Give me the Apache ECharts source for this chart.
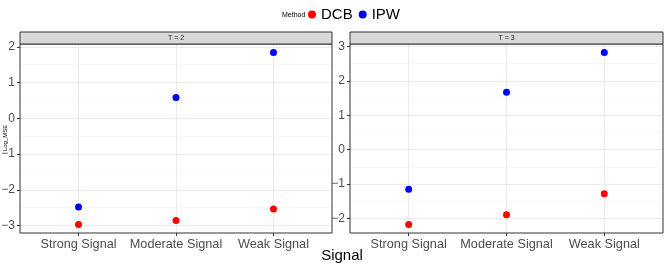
<!DOCTYPE html>
<html>
<head>
<meta charset="utf-8">
<script src="https://cdn.jsdelivr.net/npm/echarts@6/dist/echarts.min.js"></script>
<style>html,body{margin:0;padding:0;background:#fff}#c{width:666px;height:269px}</style>
</head>
<body>
<div id="c"></div>
<script>
const categories = ['Strong Signal', 'Moderate Signal', 'Weak Signal'];
const panels = ['T = 2', 'T = 3'];
const dcbT2 = [-2.97, -2.86, -2.54];
const ipwT2 = [-2.48, 0.58, 1.84];
const dcbT3 = [-2.17, -1.89, -1.28];
const ipwT3 = [-1.15, 1.67, 2.82];
const yTicksT2 = [-3, -2, -1, 0, 1, 2];
const yTicksT3 = [-2, -1, 0, 1, 2, 3];
const yMinorT2 = [-2.5, -1.5, -0.5, 0.5, 1.5];
const yMinorT3 = [-1.5, -0.5, 0.5, 1.5, 2.5];

function expandRange(arrs) {
  const all = [].concat(...arrs);
  const lo = Math.min(...all), hi = Math.max(...all);
  const pad = (hi - lo) * 0.05;
  return [lo - pad, hi + pad];
}
const r2 = expandRange([dcbT2, ipwT2]);
const r3 = expandRange([dcbT3, ipwT3]);
const xPos = categories.map((c, i) => i + 1);
const toPts = arr => arr.map((v, i) => [xPos[i], v]);

const grids = [
  {left: 20, right: 334, top: 44, bottom: 36},
  {left: 350, right: 3, top: 44, bottom: 36}
];
const txtCol = '#4d4d4d';
const font = 'Liberation Sans, Arial, sans-serif';

function xAxisDef(gi) {
  return {
    type: 'value', gridIndex: gi, min: 0.4, max: 3.6, position: 'bottom',
    axisLine: {show: false, onZero: false},
    axisTick: {show: true, inside: false, length: 3, lineStyle: {color: '#333'}, customValues: xPos},
    axisLabel: {show: true, customValues: xPos, margin: 5, color: txtCol, fontSize: 12.7, fontFamily: font,
      formatter: v => categories[Math.round(v) - 1] || ''},
    splitLine: {show: true, lineStyle: {color: '#ebebeb', width: 1}}
  };
}
function yAxisDef(gi, rng, ticks) {
  return {
    type: 'value', gridIndex: gi, min: rng[0], max: rng[1], position: 'left',
    axisLine: {show: false, onZero: false},
    axisTick: {show: true, inside: false, length: 3, lineStyle: {color: '#333'}, customValues: ticks},
    axisLabel: {show: true, customValues: ticks, margin: 5, color: txtCol, fontSize: 12, fontFamily: font,
      formatter: v => (v < 0 ? '\u2212' + Math.abs(v) : String(v))},
    splitLine: {show: true, lineStyle: {color: '#ebebeb', width: 1}}
  };
}
function yMinorDef(gi, rng, ticks) {
  return {
    type: 'value', gridIndex: gi, min: rng[0], max: rng[1], position: 'left',
    axisLine: {show: false, onZero: false},
    axisTick: {show: false, customValues: ticks},
    axisLabel: {show: false, customValues: ticks},
    splitLine: {show: true, lineStyle: {color: '#f4f4f4', width: 0.6}}
  };
}

const option = {
  animation: false,
  grid: grids.map(g => Object.assign({show: true, borderColor: '#333', borderWidth: 1, backgroundColor: 'transparent', z: 3,
    containLabel: false, outerBoundsMode: 'none'}, g)),
  legend: {
    data: ['DCB', 'IPW'], left: 308, top: 7, padding: 0, orient: 'horizontal',
    icon: 'circle', itemWidth: 8, itemHeight: 8, itemGap: 6,
    textStyle: {fontSize: 15, color: '#000', fontFamily: font}
  },
  xAxis: [xAxisDef(0), xAxisDef(1)],
  yAxis: [
    yMinorDef(0, r2, yMinorT2),
    yMinorDef(1, r3, yMinorT3),
    yAxisDef(0, r2, yTicksT2),
    yAxisDef(1, r3, yTicksT3)
  ],
  series: [
    {name: 'DCB', type: 'scatter', xAxisIndex: 0, yAxisIndex: 2, data: toPts(dcbT2), symbolSize: 7, itemStyle: {color: '#ff0000', opacity: 1}, z: 5},
    {name: 'IPW', type: 'scatter', xAxisIndex: 0, yAxisIndex: 2, data: toPts(ipwT2), symbolSize: 7, itemStyle: {color: '#0000ff', opacity: 1}, z: 5},
    {name: 'DCB', type: 'scatter', xAxisIndex: 1, yAxisIndex: 3, data: toPts(dcbT3), symbolSize: 7, itemStyle: {color: '#ff0000', opacity: 1}, z: 5},
    {name: 'IPW', type: 'scatter', xAxisIndex: 1, yAxisIndex: 3, data: toPts(ipwT3), symbolSize: 7, itemStyle: {color: '#0000ff', opacity: 1}, z: 5}
  ],
  graphic: [
    {type: 'rect', shape: {x: 20, y: 32, width: 312, height: 12}, style: {fill: '#d9d9d9', stroke: '#333', lineWidth: 1}, z: 10},
    {type: 'rect', shape: {x: 350, y: 32, width: 313, height: 12}, style: {fill: '#d9d9d9', stroke: '#333', lineWidth: 1}, z: 10},
    {type: 'text', x: 176, y: 38, style: {text: panels[0], fontSize: 7, fill: '#1a1a1a', align: 'center', verticalAlign: 'middle', fontFamily: font}, z: 11},
    {type: 'text', x: 506.5, y: 38, style: {text: panels[1], fontSize: 7, fill: '#1a1a1a', align: 'center', verticalAlign: 'middle', fontFamily: font}, z: 11},
    {type: 'text', x: 342, y: 256, style: {text: 'Signal', fontSize: 15, fill: '#000', align: 'center', verticalAlign: 'middle', fontFamily: font}, z: 11},
    {type: 'text', x: 282, y: 15, style: {text: 'Method', fontSize: 7, fill: '#000', align: 'left', verticalAlign: 'middle', fontFamily: font}, z: 11},
    {type: 'text', x: 5, y: 138, rotation: Math.PI / 2, style: {text: 'Log_MSE', fontSize: 6, fill: '#000', align: 'center', verticalAlign: 'middle', fontFamily: font}, z: 11}
  ]
};
const chart = echarts.init(document.getElementById('c'), null, {renderer: 'canvas'});
chart.setOption(option);
</script>
</body>
</html>
